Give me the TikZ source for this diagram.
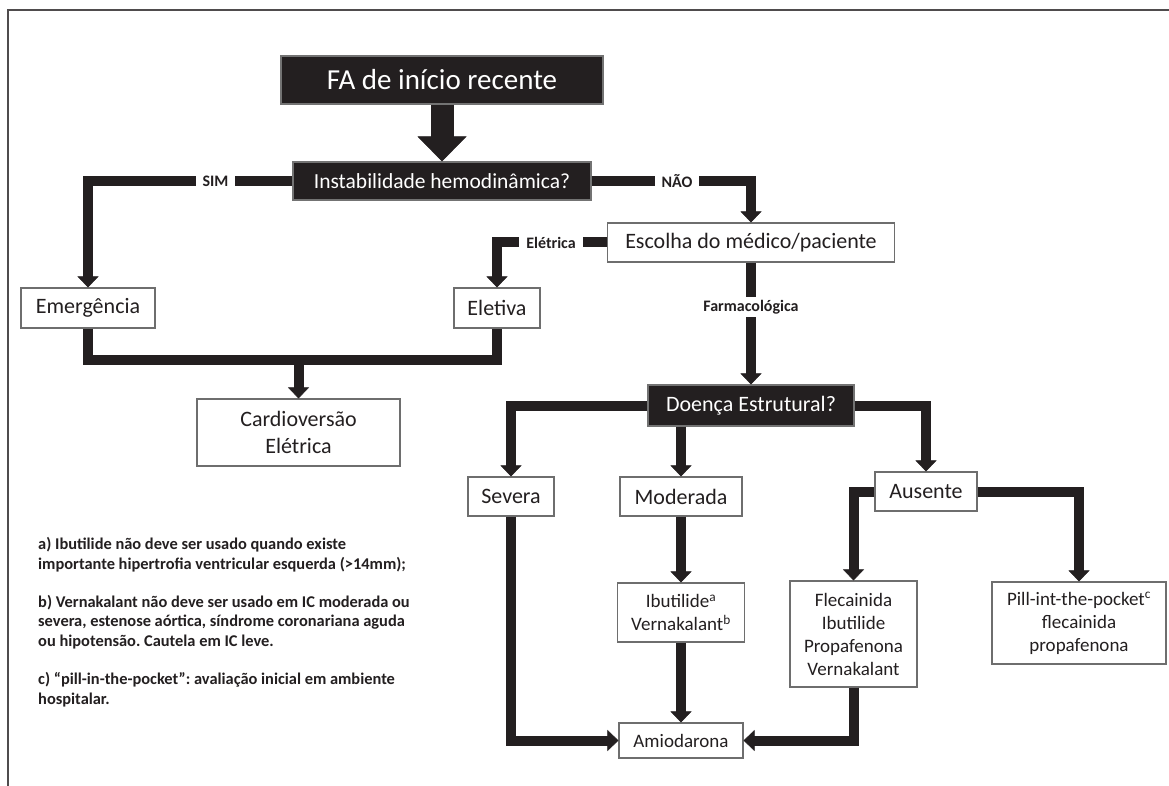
\documentclass[tikz,border=0pt]{standalone}
\usepackage{fontspec}
\setmainfont{Carlito}
\usetikzlibrary{arrows.meta,calc}
\definecolor{dark}{RGB}{35,31,32}
\definecolor{boxline}{RGB}{110,110,110}
\frenchspacing
\begin{document}
\begin{tikzpicture}[x=1pt,y=-1pt,
  wbox/.style={draw=boxline,line width=1.1pt,fill=white,inner sep=0pt,align=center,text=dark,font=\fontsize{22}{27}\selectfont},
  sbox/.style={wbox,font=\fontsize{19}{23}\selectfont},
  bbox/.style={draw=black!55,line width=1.1pt,fill=dark,inner sep=0pt,align=center,text=white,font=\fontsize{22}{27}\selectfont},
  conn/.style={draw=dark,line width=10pt,line join=miter},
  arr/.style={conn,-{Triangle[width=21pt,length=11pt,line width=0.5pt]}},
  bigarr/.style={draw=dark,line width=23pt,-{Triangle[width=49pt,length=25pt,line width=0.5pt]}},
  lab/.style={fill=white,text=dark,inner xsep=7pt,inner ysep=3pt,font=\bfseries\fontsize{16}{18}\selectfont},
  note/.style={anchor=base west,align=left,inner sep=0pt,text=dark,font=\bfseries\fontsize{16.4}{19.2}\selectfont}]
\useasboundingbox (0,0) rectangle (1169,786);
\fill[white] (0,0) rectangle (1169,786);
\draw[line width=1.3pt,draw=dark!80] (8,786) -- (8,10) -- (1169,10);

% boxes
\node[bbox,minimum width=322pt,minimum height=48pt,font=\fontsize{29}{34}\selectfont] (fa) at (442,80) {FA de início recente};
\node[bbox,minimum width=298pt,minimum height=38pt,font=\fontsize{21.5}{26}\selectfont] (inst) at (442,181) {Instabilidade hemodinâmica?};
\node[wbox,minimum width=287pt,minimum height=39pt] (esc) at (751,242.5) {Escolha do médico/paciente};
\node[wbox,minimum width=134pt,minimum height=40pt] (emer) at (88,308) {Emergência};
\node[wbox,minimum width=86pt,minimum height=40pt] (elet) at (497,308) {Eletiva};
\node[wbox,minimum width=203pt,minimum height=67pt] (cardio) at (298.5,432.5) {Cardioversão\\Elétrica};
\node[bbox,minimum width=206pt,minimum height=41pt] (doenca) at (751,405.5) {Doença Estrutural?};
\node[wbox,minimum width=86pt,minimum height=39pt] (sev) at (511,496.5) {Severa};
\node[wbox,minimum width=122pt,minimum height=39pt] (mod) at (681,496.5) {Moderada};
\node[wbox,minimum width=102pt,minimum height=39pt] (aus) at (926,491.5) {Ausente};
\node[sbox,minimum width=127pt,minimum height=59pt] (ibu) at (681,612.5) {Ibutilide\textsuperscript{a}\\Vernakalant\textsuperscript{b}};
\node[sbox,minimum width=127pt,minimum height=106pt] (flec) at (853.5,634) {Flecainida\\Ibutilide\\Propafenona\\Vernakalant};
\node[sbox,minimum width=174pt,minimum height=82pt] (pill) at (1079,623) {Pill-int-the-pocket\textsuperscript{c}\\flecainida\\propafenona};
\node[sbox,minimum width=124pt,minimum height=35pt] (amio) at (681,740.5) {Amiodarona};

% connectors
\draw[bigarr] (fa.south) -- (inst.north);
\draw[arr] (inst.west) -| (emer.north);
\draw[arr] (inst.east) -| (esc.north);
\draw[arr] (esc.west) -| (elet.north);
\draw[arr] (esc.south) -- (doenca.north);
\coordinate (mj) at (298.5,360);
\draw[conn] (emer.south) |- (mj) -| (elet.south);
\draw[arr] (mj) -- (cardio.north);
\draw[arr] (doenca.west) -| (sev.north);
\draw[arr] (mod.north |- doenca.south) -- (mod.north);
\draw[arr] (doenca.east) -| (aus.north);
\draw[arr] (mod.south) -- (ibu.north);
\draw[arr] (ibu.south) -- (amio.north);
\draw[arr] (aus.west) -| (flec.north);
\draw[arr] (aus.east) -| (pill.north);
\draw[arr] (sev.south) |- (amio.west);
\draw[arr] (flec.south) |- (amio.east);

% labels
\node[lab] (lsim) at (215.5,181) {SIM};
\node[lab] (lnao) at (677,181) {NÃO};
\node[lab] (lele) at (551,242.5) {Elétrica};
\node[lab] (lfar) at (751,307) {Farmacológica};

% notes (base anchor = baseline of last line)
\node[note] (na) at (38,569) {a) Ibutilide não deve ser usado quando existe\\importante hipertrofia ventricular esquerda (>14mm);};
\node[note] (nb) at (38,646) {b) Vernakalant não deve ser usado em IC moderada ou\\severa, estenose aórtica, síndrome coronariana aguda\\ou hipotensão. Cautela em IC leve.};
\node[note] (nc) at (38,704) {c) “pill-in-the-pocket”: avaliação inicial em ambiente\\hospitalar.};
\end{tikzpicture}
\end{document}
